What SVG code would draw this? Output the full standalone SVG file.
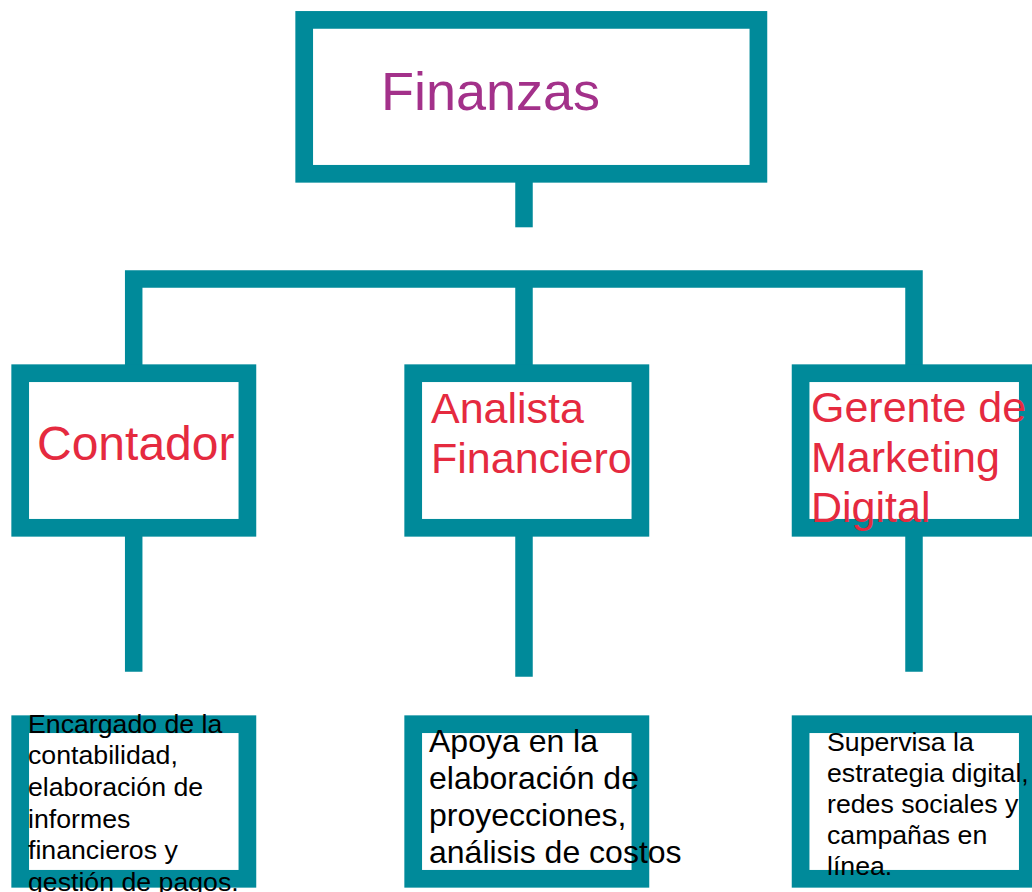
<svg xmlns="http://www.w3.org/2000/svg" width="1032" height="892" viewBox="0 0 1032 892">
<style>
.box{fill:#ffffff;stroke:#008a9a;stroke-width:17.7}
.con{fill:none;stroke:#008a9a;stroke-width:17.5;stroke-linejoin:miter;stroke-linecap:butt}
.t{font-family:"Liberation Sans",Arial,sans-serif}
.title{fill:#a3318a;font-size:54px}
.role{fill:#e52a3f;font-size:43px}
.desc{fill:#000000;font-size:26.7px}
</style>
<rect width="1032" height="892" fill="#ffffff"/>
<g id="connectors">
<path class="con" d="M524 182 V227.3"/>
<path class="con" d="M133.7 365 V279 H914 V365"/>
<path class="con" d="M524 279 V365"/>
<path class="con" d="M133.7 536 V671.7"/>
<path class="con" d="M524 536 V676.7"/>
<path class="con" d="M914 536 V671.7"/>
</g>
<g id="finanzas">
<rect class="box" x="304.2" y="19.9" width="454.2" height="153.9"/>
<text class="t title" x="381" y="110">Finanzas</text>
</g>
<g id="contador">
<rect class="box" x="20.2" y="373.2" width="227.2" height="154.6"/>
<text class="t role" x="37" y="460" style="font-size:48px">Contador</text>
</g>
<g id="analista">
<rect class="box" x="413.2" y="373.2" width="227.2" height="154.6"/>
<text class="t role" x="431"><tspan x="431" y="423.3">Analista</tspan><tspan x="431" y="473.3">Financiero</tspan></text>
</g>
<g id="gerente">
<rect class="box" x="800.6" y="373.2" width="227.2" height="154.6"/>
<text class="t role"><tspan x="811" y="422.3">Gerente de</tspan><tspan x="811" y="472.3">Marketing</tspan><tspan x="811" y="522.3">Digital</tspan></text>
</g>
<g id="desc-contador">
<rect class="box" x="20.2" y="724.2" width="227.2" height="154.6"/>
<text class="t desc"><tspan x="28" y="732.7">Encargado de la</tspan><tspan x="28" y="764.3">contabilidad,</tspan><tspan x="28" y="796">elaboración de</tspan><tspan x="28" y="827.6">informes</tspan><tspan x="28" y="859.3">financieros y</tspan><tspan x="28" y="891">gestión de pagos.</tspan></text>
</g>
<g id="desc-analista">
<rect class="box" x="413.2" y="724.2" width="227.2" height="154.6"/>
<text class="t desc" style="font-size:32px"><tspan x="429" y="751.7">Apoya en la</tspan><tspan x="429" y="788.9">elaboración de</tspan><tspan x="429" y="826.1">proyecciones,</tspan><tspan x="429" y="863.3">análisis de costos</tspan></text>
</g>
<g id="desc-gerente">
<rect class="box" x="800.6" y="724.2" width="227.2" height="154.6"/>
<text class="t desc"><tspan x="827" y="750.7">Supervisa la</tspan><tspan x="827" y="781.8">estrategia digital,</tspan><tspan x="827" y="812.9">redes sociales y</tspan><tspan x="827" y="844">campañas en</tspan><tspan x="827" y="875">línea.</tspan></text>
</g>
</svg>
